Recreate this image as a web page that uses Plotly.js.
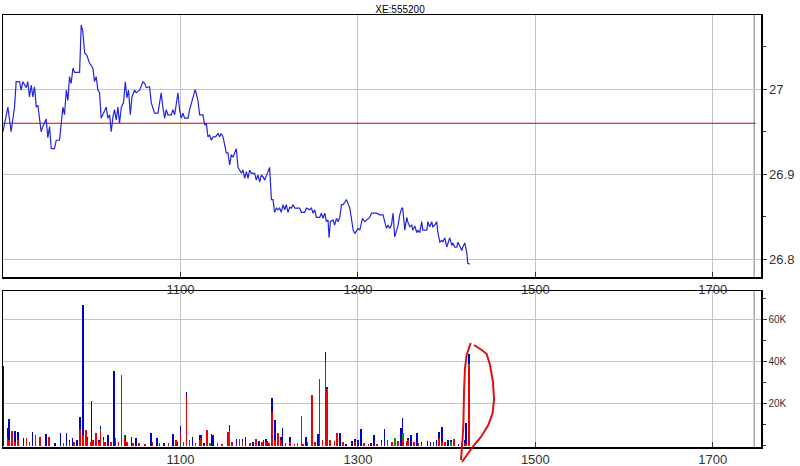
<!DOCTYPE html>
<html>
<head>
<meta charset="utf-8">
<script src="https://cdn.plot.ly/plotly-3.0.1.min.js"></script>
<style>html,body{margin:0;padding:0;background:#fff;}#chart{width:800px;height:466px;}</style>
</head>
<body>
<div id="chart"></div>
<script>
// ---- data (x = minutes after 09:00) ----
const symbol = 'XE:555200';
const prevClose = 26.96;
const priceMin = [0,2.2,3.3,5.5,7.8,8.9,11.2,12.3,13.4,15.7,16.8,17.9,19.1,20.2,21.3,22.5,23.6,25.8,26.9,29.2,30.3,31.5,32.6,34.8,36.0,38.2,39.4,40.5,41.6,42.8,43.9,45.0,46.1,47.3,48.4,51.8,52.9,54.0,55.2,56.7,58.5,60.8,61.9,63.0,64.2,65.3,66.4,68.7,69.8,70.9,72.1,73.2,74.3,75.4,76.6,77.7,78.8,80.0,81.5,82.7,83.8,84.9,86.1,87.2,89.0,90.1,92.4,94.6,95.8,96.9,99.1,100.3,101.4,102.5,104.8,107.0,108.1,109.3,110.4,111.5,113.8,114.9,116.1,118.3,119.4,120.6,121.7,122.8,125.1,126.2,130.0,131.8,133.0,135.2,136.4,137.5,138.6,139.7,140.9,142.0,143.8,145.4,146.5,147.6,148.8,151.0,152.1,153.3,154.4,155.5,157.8,158.9,160.0,161.2,162.3,163.4,164.6,165.7,166.8,168.0,170.2,171.3,172.4,173.6,174.7,175.8,177.0,178.1,179.2,180.3,181.5,182.6,183.7,184.9,186.0,187.1,188.2,189.4,190.5,191.6,192.7,193.9,195.0,196.1,197.3,200.6,201.8,204.0,205.2,207.4,208.6,209.7,210.8,211.9,214.2,215.3,216.4,217.6,218.7,219.8,220.5,221.4,223.2,224.3,225.5,226.6,227.7,228.9,230.0,232.3,233.4,234.5,235.6,236.8,237.9,240.1,241.3,243.1,244.6,245.8,248.0,249.2,252.5,254.8,257.0,259.3,260.4,261.5,262.7,263.8,264.9,267.2,268.3,269.7,270.3,271.7,273.1,273.7,275.1,276.4,277.1,278.5,279.8,280.5,281.8,283.2,283.9,286.6,287.3,288.6,290.0,290.6,292.0,293.3,294.0,295.4,296.7,297.4,298.8,300.1,300.8,302.1,303.5,304.2,305.5,306.9,307.6,308.9,310.3,310.9,312.3,313.7,314.3,315.7];
const priceVal = [26.950,26.970,26.979,26.950,26.979,27.009,27.009,26.999,27.009,27.002,27.009,26.991,27.005,26.991,27.003,26.979,26.981,26.950,26.956,26.965,26.943,26.956,26.930,26.930,26.940,26.940,26.960,26.979,26.970,26.999,26.987,27.015,27.007,27.025,27.020,27.020,27.076,27.068,27.043,27.040,27.031,27.025,27.009,27.015,26.999,26.996,26.966,26.976,26.979,26.966,26.970,26.950,26.967,26.976,26.964,26.979,26.960,26.979,26.984,27.009,26.990,26.999,26.970,26.991,26.999,26.996,26.999,27.009,27.007,27.002,27.003,26.984,26.979,26.972,26.972,26.996,26.979,26.966,26.976,26.970,26.970,26.976,26.970,26.996,26.976,26.966,26.972,26.966,26.966,26.976,27.000,26.987,26.970,26.970,26.958,26.960,26.944,26.946,26.940,26.944,26.944,26.948,26.944,26.948,26.944,26.925,26.925,26.911,26.923,26.920,26.930,26.908,26.905,26.901,26.905,26.895,26.903,26.895,26.905,26.901,26.901,26.893,26.899,26.891,26.899,26.897,26.893,26.899,26.903,26.908,26.870,26.870,26.855,26.860,26.858,26.860,26.855,26.864,26.858,26.864,26.855,26.861,26.860,26.864,26.860,26.860,26.855,26.855,26.860,26.858,26.860,26.854,26.858,26.849,26.849,26.854,26.848,26.854,26.844,26.846,26.825,26.844,26.846,26.840,26.848,26.844,26.849,26.864,26.864,26.870,26.864,26.860,26.848,26.834,26.830,26.836,26.834,26.848,26.844,26.846,26.849,26.854,26.854,26.852,26.852,26.836,26.840,26.836,26.840,26.854,26.826,26.840,26.852,26.860,26.860,26.834,26.849,26.844,26.838,26.840,26.834,26.839,26.831,26.834,26.831,26.844,26.834,26.834,26.844,26.838,26.844,26.838,26.840,26.844,26.832,26.820,26.822,26.820,26.825,26.814,26.819,26.825,26.816,26.819,26.814,26.814,26.820,26.816,26.810,26.814,26.819,26.807,26.795,26.794];

// volume per minute, in thousands, split by trade colour
const volMin   = [0,3,4,6,8,10,14,16,18,20,22,25,29,31,35,39,41,43,45,47,48,50,52,54,56,57,59,60,61,63,65,66,68,69,71,73,75,76,78,80,82,83,84,87,88,90,92,96,100,101,104,106,109,112,115,117,118,120,122,124,126,128,130,133,134,136,138,140,141,142,145,148,152,153,155,158,160,162,164,167,169,171,173,175,176,178,179,180,182,184,186,188,189,191,194,197,199,202,203,205,206,209,211,213,214,216,218,219,221,224,226,228,230,232,236,238,240,242,244,247,249,251,253,256,258,260,263,265,267,269,270,271,273,274,276,278,280,281,283,287,289,291,293,295,297,299,301,303,305,308,310,312,313,315];
const volRed   = [0,4,3,7,2,3,0,4,2,0,5,4.4,0,4.4,0,0,1.5,0,2,0,2,0,8,5,7.4,3,2,2,3,6.3,2,7,3,2,0,2,0,4,2,33,4,0,2,0,1.5,0,1.5,1,0,2,0,1.5,0,1.5,0,3,0,6,2,24,3,0,1.5,3,4,0,7.6,0,0,0,1.5,1,6.5,2,2,0,3.5,2,0,1.5,0,3.5,0,2,0,2,0,1.5,16,3,6,3,0,1.5,2,1,1.5,14.3,1,0,2,24.3,2,0,31.9,3,40,27,3,2.5,6,0,2,0,0,2,0,0,1.5,1,0,0,1,2,0,3,2,0,2.5,0,3,2,2.5,3,0,2,0,1.5,1,0,0,2,0,4,2,2,0,0,3.4,0,1.5,1.5,1,38];
const volGreen = [0,0,0,0,0,0,0,0,0,0,0,0,0,0,0,0,0,0,0,0,0,0,0,0,0,0,0,0,0,0,0,1,0,0,0,0,0,0,0,1,1,0,0,0,0,0,0,0,0,0,0,0,0,0,0,0,0,0,0,0,0,0,0,0,0,0,0,1.5,0,0,0,0,0,5,0,0,0,0,0,0,0,0,0,0,0,0,0,0,0,0,0,0,0,0,0,0,0,0,0,0,0,0,0,0,0,0,0,0,0,0,0,0,0,0,0,0,0,0,0,0,0,0,0,0,0,0,0,3.8,0,0,3,4,0,0,0,0,0,0,0,0,0,0,0,0,0,0,0,2,0,0,0,0,0,1];
const volBlue  = [38,4.4,9.8,0,5,3.5,4,0,0,6.5,0,0,5.7,0,1.5,6.3,0,6,1,4,0,2.8,6,62,0,1.4,0,19.4,0,0,1,1.7,1.4,0,5,0,35.7,0,0,0,0,5,0,4.4,0,4,0,0,6.3,0,4,0,1.5,0,5.7,0,2,3.7,0,1.5,0,4.4,0,2,1,1.5,0,0,5.7,5,0,0,0,3,0,3.5,0,1.5,4.4,0,2,0,2.5,0,3,1.5,2.5,0,6.7,9.4,0,1.5,8.6,0,2.4,0,0,0,0,4.4,0,0,0,5.7,0,0,4.8,1.2,0,0,0,6,0,1,2.5,1.5,3,8,0,0,1.5,5,0,1,8,0,0,0,0,8.6,7.5,0,0,1,5,0,6,0,1,2.5,2,0,3,2.8,7.2,0,3,1,0,1,0,1.4,10.1,5];

const xTickVals = [120, 240, 360, 480];
const xTickText = ['1100', '1300', '1500', '1700'];
const pTickVals = [26.8, 26.9, 27.0];
const pTickText = ['26.8', '26.9', '27'];
const vTickVals = [20, 40, 60];
const vTickText = ['20K', '40K', '60K'];
const sessionEnd = 508;   // grey vertical line
const refLineEnd = 509;   // end of previous-close line

// hand-drawn red mark (pixel points on the picture)
const markLeft  = [[461,460],[462.5,440],[463.3,425],[464,392],[465,368],[466.7,355],[470.7,343]];
const markRight = [[474,345],[481.7,350],[486.7,354],[490,365],[493,382],[494,399],[492.7,413],[488.3,425],[481,437],[473.3,446],[467,455],[462,462]];

// ---- layout constants ----
const W = 800, H = 466;
const M = {l: 3, r: 39, t: 15, b: 19};
const topDomain = [(447 - 277) / (H - M.t - M.b), 1];
const botDomain = [0, (447 - 291) / (H - M.t - M.b)];

function toPath(pts) {
  const pw = W - M.l - M.r, ph = H - M.t - M.b;
  return pts.map((p, i) => (i ? 'L' : 'M') + ((p[0] - M.l) / pw).toFixed(4) + ',' + ((H - M.b - p[1]) / ph).toFixed(4)).join(' ');
}

const minutes = priceMin;
const traces = [
  {x: [0, refLineEnd], y: [prevClose, prevClose], xaxis: 'x', yaxis: 'y', mode: 'lines',
   line: {color: '#d40000', width: 1}, hoverinfo: 'skip'},
  {x: minutes, y: priceVal, xaxis: 'x', yaxis: 'y', mode: 'lines',
   line: {color: '#2424e0', width: 1.2}},
  {type: 'bar', x: volMin, y: volRed, xaxis: 'x2', yaxis: 'y2', width: 1.0,
   marker: {color: '#ee0000', line: {width: 0}}},
  {type: 'bar', x: volMin, y: volGreen, xaxis: 'x2', yaxis: 'y2', width: 1.0,
   marker: {color: '#009a00', line: {width: 0}}},
  {type: 'bar', x: volMin, y: volBlue, xaxis: 'x2', yaxis: 'y2', width: 1.0,
   marker: {color: '#0000c8', line: {width: 0}}}
];

const font = {family: 'Liberation Sans, Arial, sans-serif', size: 13, color: '#222'};
const xCommon = {
  range: [0, 512.6], tickvals: xTickVals, ticktext: xTickText,
  showgrid: true, gridcolor: '#c4c4c4', gridwidth: 1,
  showline: true, linecolor: '#000', linewidth: 1.5, mirror: true,
  ticks: 'inside', ticklen: 5, tickcolor: '#333', zeroline: false,
  tickfont: {family: font.family, size: 13, color: '#333'}, fixedrange: true
};

const layout = {
  width: W, height: H, margin: M, showlegend: false,
  paper_bgcolor: '#fff', plot_bgcolor: '#fff', barmode: 'stack', bargap: 0,
  font: font,
  title: {text: symbol, font: {family: font.family, size: 10, color: '#000'},
          x: 0.5, xref: 'container', xanchor: 'center', y: 1 - 9 / H, yref: 'container', yanchor: 'middle'},
  xaxis: Object.assign({}, xCommon, {anchor: 'y'}),
  xaxis2: Object.assign({}, xCommon, {anchor: 'y2'}),
  yaxis: {
    domain: topDomain, side: 'right', range: [26.7788, 27.0876],
    tickvals: pTickVals, ticktext: pTickText,
    showgrid: true, gridcolor: '#c4c4c4', zeroline: false,
    showline: true, linecolor: '#000', linewidth: 1.5, mirror: true,
    ticks: 'outside', ticklen: 4, tickcolor: '#333',
    minor: {dtick: 0.05, tick0: 26.8, ticks: 'outside', ticklen: 3, tickcolor: '#333', showgrid: false},
    tickfont: {family: font.family, size: 13, color: '#333'}, fixedrange: true
  },
  yaxis2: {
    domain: botDomain, side: 'right', range: [-0.5, 73.8],
    tickvals: vTickVals, ticktext: vTickText,
    showgrid: true, gridcolor: '#c4c4c4', zeroline: false,
    showline: true, linecolor: '#000', linewidth: 1.5, mirror: true,
    ticks: 'outside', ticklen: 4, tickcolor: '#333',
    minor: {dtick: 10, tick0: 0, ticks: 'outside', ticklen: 3, tickcolor: '#333', showgrid: false},
    tickfont: {family: font.family, size: 10, color: '#333'}, fixedrange: true
  },
  shapes: [
    {type: 'line', xref: 'x', yref: 'y domain', x0: sessionEnd, x1: sessionEnd, y0: 0, y1: 1,
     line: {color: '#a8a8a8', width: 1.5}, layer: 'below'},
    {type: 'line', xref: 'x2', yref: 'y2 domain', x0: sessionEnd, x1: sessionEnd, y0: 0, y1: 1,
     line: {color: '#a8a8a8', width: 1.5}, layer: 'below'},
    {type: 'path', xref: 'paper', yref: 'paper', path: toPath(markLeft),
     line: {color: '#e01010', width: 2}},
    {type: 'path', xref: 'paper', yref: 'paper', path: toPath(markRight),
     line: {color: '#e01010', width: 2}}
  ]
};

Plotly.newPlot('chart', traces, layout, {staticPlot: true, displayModeBar: false});
</script>
</body>
</html>
